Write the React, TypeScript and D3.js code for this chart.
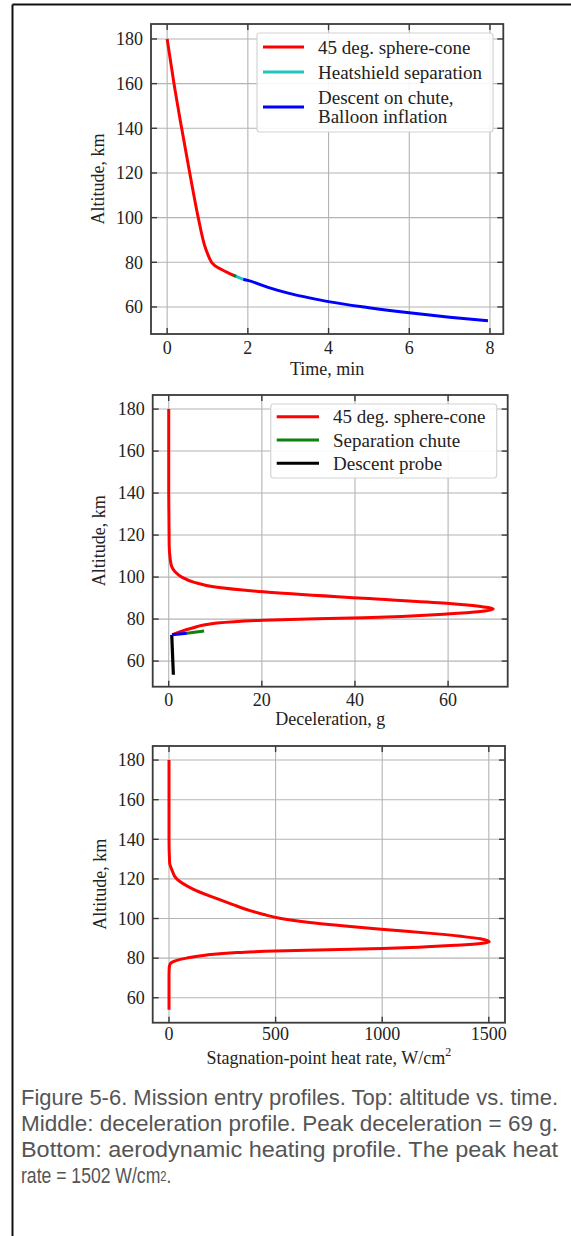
import React from "react";
import * as d3 from "d3";

const W = 571;
const H = 1236;

// ---------- Shared ticks ----------
const altTicks = [60, 80, 100, 120, 140, 160, 180];

// ---------- Top panel: altitude vs time ----------
const timeTicks = [0, 2, 4, 6, 8];
const topRedT = [0, 0.17, 0.36, 0.56, 0.77, 0.92, 1.02, 1.1, 1.2, 1.35, 1.5, 1.68];
const topRedAlt = [180, 160, 140, 120, 100, 88, 83, 80, 78.3, 76.8, 75.4, 73.9];
const topGreenT = [1.64, 1.71];
const topGreenAlt = [74.2, 73.7];
const topCyanT = [1.68, 1.885];
const topCyanAlt = [73.9, 72.4];
const topBlueT = [1.885, 2, 2.5, 3, 3.5, 4, 5, 6, 7, 7.95];
const topBlueAlt = [72.4, 71.9, 68.8, 66.2, 64.2, 62.4, 59.7, 57.4, 55.4, 53.8];
const topLegendLabels = [["45 deg. sphere-cone"], ["Heatshield separation"], ["Descent on chute,", "Balloon inflation"]];

// ---------- Middle panel: deceleration ----------
const decelTicks = [0, 20, 40, 60];
const midRedG = [0, 0, 0.1, 0.3, 0.6, 1.35, 2.8, 5.5, 9.6, 20.3, 41.8, 59.7, 67, 69.7, 67, 59.7, 41.8, 20.3, 9.6, 4.9, 2.5, 0.8];
const midRedAlt = [180, 140, 115, 109, 105.3, 102.5, 100, 97.5, 95.4, 93, 89.9, 87.5, 86, 84.8, 83.6, 82.4, 80.6, 79.5, 77.9, 75.6, 74, 72.6];
const midBlueG = [0.7, 3.9];
const midBlueAlt = [72.5, 73.2];
const midGreenG = [3.9, 7.6];
const midGreenAlt = [73.2, 74.3];
const midBlackG = [0.65, 1.0];
const midBlackAlt = [72.5, 53.5];
const midLegendLabels = [["45 deg. sphere-cone"], ["Separation chute"], ["Descent probe"]];

// ---------- Bottom panel: heat rate ----------
const heatTicks = [0, 500, 1000, 1500];
const botRedQ = [0, 0, 3, 12, 36, 110, 225, 300, 380, 445, 525, 660, 800, 1010, 1230, 1370, 1460, 1502, 1470, 1350, 1170, 1000, 750, 500, 320, 170, 83, 40, 15, 5, 1, 0, 0];
const botRedAlt = [180, 140, 128, 125, 120, 115, 110, 107, 104, 102, 100, 98, 96.5, 94.5, 92.5, 91, 89.8, 88.3, 87.5, 86.5, 85.5, 84.9, 84.2, 83.6, 82.8, 81.5, 80, 79, 78, 77, 75, 70, 54];

// ---------- Caption ----------
const captionLines = [
  "Figure 5-6. Mission entry profiles. Top: altitude vs. time.",
  "Middle: deceleration profile. Peak deceleration = 69 g.",
  "Bottom: aerodynamic heating profile. The peak heat",
];
const captionLast = "rate = 1502 W/cm";

const SERIF = "'Liberation Serif', 'Times New Roman', 'DejaVu Serif', serif";
const NARROW = "'Liberation Sans Narrow', 'Arial Narrow', 'Liberation Sans', Arial, sans-serif";

type Series = { xs: number[]; ys: number[]; color: string; width: number };
type Legend = {
  box: [number, number, number, number];
  lineX: [number, number];
  textX: number;
  rows: { color: string; lineY: number; labels: string[]; textYs: number[] }[];
};

type PanelProps = {
  frame: { l: number; r: number; t: number; b: number };
  xDomain: [number, number];
  yDomain: [number, number];
  xTicks: number[];
  yTicks: number[];
  series: Series[];
  along: "x" | "y";
  legend?: Legend;
  xLabel: React.ReactNode;
  tickLabelY: number;
  xLabelY: number;
  yLabelX: number;
};

function Panel(p: PanelProps) {
  const { frame } = p;
  const x = d3.scaleLinear().domain(p.xDomain).range([frame.l, frame.r]);
  const y = d3.scaleLinear().domain(p.yDomain).range([frame.b, frame.t]);
  const curve = p.along === "x" ? d3.curveMonotoneX : d3.curveMonotoneY;
  const line = d3
    .line<[number, number]>()
    .x((d) => x(d[0]))
    .y((d) => y(d[1]))
    .curve(curve);
  const tl = 6;
  const frameColor = "#3a3a3a";
  const gridColor = "#b4b4b4";
  const cy = (frame.t + frame.b) / 2;
  const cx = (frame.l + frame.r) / 2;
  return (
    <g>
      {p.xTicks.map((t) => (
        <line key={"gx" + t} x1={x(t)} x2={x(t)} y1={frame.t} y2={frame.b} stroke={gridColor} strokeWidth={1.1} />
      ))}
      {p.yTicks.map((t) => (
        <line key={"gy" + t} x1={frame.l} x2={frame.r} y1={y(t)} y2={y(t)} stroke={gridColor} strokeWidth={1.1} />
      ))}
      {p.series.map((s, i) => (
        <path
          key={"s" + i}
          d={line(s.xs.map((v, j) => [v, s.ys[j]] as [number, number])) || ""}
          fill="none"
          stroke={s.color}
          strokeWidth={s.width}
          strokeLinejoin="round"
        />
      ))}
      {p.xTicks.map((t) => (
        <g key={"tx" + t}>
          <line x1={x(t)} x2={x(t)} y1={frame.b} y2={frame.b - tl} stroke={frameColor} strokeWidth={1.4} />
          <line x1={x(t)} x2={x(t)} y1={frame.t} y2={frame.t + tl} stroke={frameColor} strokeWidth={1.4} />
          <text x={x(t)} y={p.tickLabelY} dy="0.35em" textAnchor="middle" fontFamily={SERIF} fontSize={18} fill="#222">
            {t}
          </text>
        </g>
      ))}
      {p.yTicks.map((t) => (
        <g key={"ty" + t}>
          <line x1={frame.l} x2={frame.l + tl} y1={y(t)} y2={y(t)} stroke={frameColor} strokeWidth={1.4} />
          <line x1={frame.r} x2={frame.r - tl} y1={y(t)} y2={y(t)} stroke={frameColor} strokeWidth={1.4} />
          <text x={frame.l - 8} y={y(t)} dy="0.35em" textAnchor="end" fontFamily={SERIF} fontSize={18} fill="#222">
            {t}
          </text>
        </g>
      ))}
      {p.legend && (
        <g>
          <rect
            x={p.legend.box[0]}
            y={p.legend.box[1]}
            width={p.legend.box[2]}
            height={p.legend.box[3]}
            rx={3}
            fill="#ffffff"
            fillOpacity={0.88}
            stroke="#d4d4d4"
            strokeWidth={1.2}
          />
          {p.legend.rows.map((r, i) => (
            <g key={"lg" + i}>
              <line x1={p.legend!.lineX[0]} x2={p.legend!.lineX[1]} y1={r.lineY} y2={r.lineY} stroke={r.color} strokeWidth={3} />
              {r.labels.map((lab, k) => (
                <text key={k} x={p.legend!.textX} y={r.textYs[k]} dy="0.35em" fontFamily={SERIF} fontSize={19} fill="#222">
                  {lab}
                </text>
              ))}
            </g>
          ))}
        </g>
      )}
      <rect x={frame.l} y={frame.t} width={frame.r - frame.l} height={frame.b - frame.t} fill="none" stroke={frameColor} strokeWidth={1.8} />
      <text x={cx} y={p.xLabelY} textAnchor="middle" fontFamily={SERIF} fontSize={18} fill="#222">
        {p.xLabel}
      </text>
      <text
        transform={`translate(${p.yLabelX},${cy}) rotate(-90)`}
        textAnchor="middle"
        dy="0.35em"
        fontFamily={SERIF}
        fontSize={18}
        fill="#222"
      >
        Altitude, km
      </text>
    </g>
  );
}

export default function App() {
  const topSeries: Series[] = [
    { xs: topRedT, ys: topRedAlt, color: "#ff0000", width: 3 },
    { xs: topCyanT, ys: topCyanAlt, color: "#1fc4c4", width: 3 },
    { xs: topGreenT, ys: topGreenAlt, color: "#108010", width: 3 },
    { xs: topBlueT, ys: topBlueAlt, color: "#0000ff", width: 3 },
  ];
  const midSeries: Series[] = [
    { xs: midRedG, ys: midRedAlt, color: "#ff0000", width: 3 },
    { xs: midBlackG, ys: midBlackAlt, color: "#000000", width: 3.2 },
    { xs: midBlueG, ys: midBlueAlt, color: "#0000ff", width: 3 },
    { xs: midGreenG, ys: midGreenAlt, color: "#108010", width: 3 },
  ];
  const botSeries: Series[] = [{ xs: botRedQ, ys: botRedAlt, color: "#ff0000", width: 3 }];

  const topColors = ["#ff0000", "#1fc4c4", "#0000ff"];
  const midColors = ["#ff0000", "#108010", "#000000"];

  const capX = 21;
  const capY0 = 1105;
  const capDy = 26;

  return (
    <svg
      width={W}
      height={H}
      viewBox={`0 0 ${W} ${H}`}
      style={{ position: "absolute", left: 0, top: 0, background: "#ffffff" }}
    >
      <rect x={0} y={0} width={W} height={H} fill="#ffffff" />
      <line x1={12.5} x2={W} y1={4.5} y2={4.5} stroke="#111" strokeWidth={2} />
      <line x1={12.5} x2={12.5} y1={4.5} y2={H} stroke="#111" strokeWidth={2} />

      <Panel
        frame={{ l: 151, r: 503.3, t: 24, b: 334 }}
        xDomain={[-0.4, 8.33]}
        yDomain={[47.9, 186.7]}
        xTicks={timeTicks}
        yTicks={altTicks}
        series={topSeries}
        along="x"
        tickLabelY={348}
        xLabelY={375}
        yLabelX={98}
        xLabel="Time, min"
        legend={{
          box: [257, 33, 236, 99],
          lineX: [263, 304],
          textX: 318,
          rows: [
            { color: topColors[0], lineY: 47, labels: topLegendLabels[0], textYs: [47] },
            { color: topColors[1], lineY: 72, labels: topLegendLabels[1], textYs: [72] },
            { color: topColors[2], lineY: 107, labels: topLegendLabels[2], textYs: [97, 116] },
          ],
        }}
      />

      <Panel
        frame={{ l: 152.7, r: 507.7, t: 395, b: 686.7 }}
        xDomain={[-3.44, 72.8]}
        yDomain={[47.8, 186.7]}
        xTicks={decelTicks}
        yTicks={altTicks}
        series={midSeries}
        along="y"
        tickLabelY={699.5}
        xLabelY={724.5}
        yLabelX={98.5}
        xLabel="Deceleration, g"
        legend={{
          box: [270.7, 404, 226, 74],
          lineX: [276.7, 319],
          textX: 333,
          rows: [
            { color: midColors[0], lineY: 416.7, labels: midLegendLabels[0], textYs: [416.7] },
            { color: midColors[1], lineY: 440, labels: midLegendLabels[1], textYs: [440] },
            { color: midColors[2], lineY: 463.3, labels: midLegendLabels[2], textYs: [463.3] },
          ],
        }}
      />

      <Panel
        frame={{ l: 152.7, r: 505, t: 746, b: 1022.7 }}
        xDomain={[-76.5, 1576]}
        yDomain={[47.4, 187.1]}
        xTicks={heatTicks}
        yTicks={altTicks}
        series={botSeries}
        along="y"
        tickLabelY={1033.3}
        xLabelY={1064}
        yLabelX={100}
        xLabel={
          <>
            Stagnation-point heat rate, W/cm
            <tspan dy={-8} fontSize={12}>
              2
            </tspan>
          </>
        }
      />

      {captionLines.map((t, i) => (
        <text
          key={"cap" + i}
          x={capX}
          y={capY0 + i * capDy}
          fontFamily={NARROW}
          fontSize={22}
          fill="#555555"
          textLength={537}
          lengthAdjust="spacingAndGlyphs"
        >
          {t}
        </text>
      ))}
      <text
        transform={`translate(${capX},${capY0 + 3 * capDy}) scale(0.8,1)`}
        fontFamily={NARROW}
        fontSize={22}
        fill="#555555"
      >
        {captionLast}
        <tspan fontSize={14} dy={-2}>
          2
        </tspan>
        <tspan dy={2}>.</tspan>
      </text>
    </svg>
  );
}
